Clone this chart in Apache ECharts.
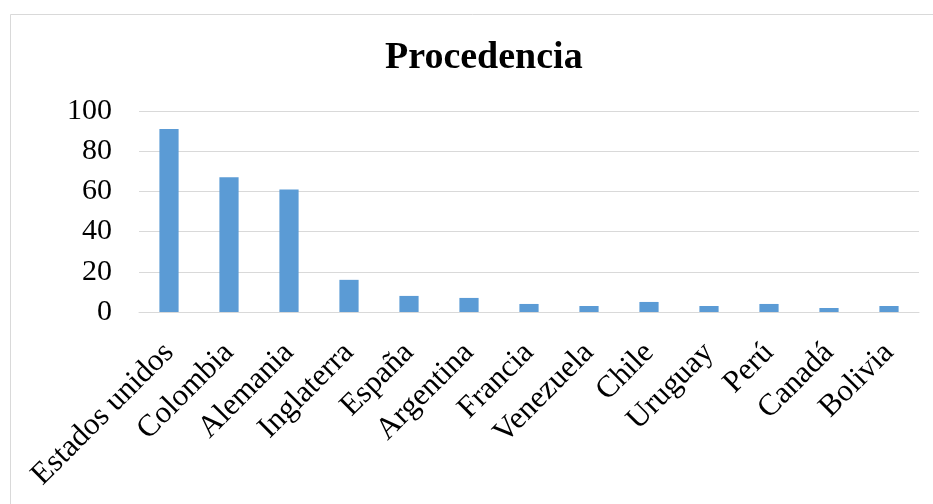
<!DOCTYPE html>
<html>
<head>
<meta charset="utf-8">
<script src="https://cdn.jsdelivr.net/npm/echarts@6/dist/echarts.min.js"></script>
<style>html,body{margin:0;padding:0;background:#fff;}#c{width:933px;height:504px;}</style>
</head>
<body>
<div id="c"></div>
<script>
const categories = ["Estados unidos","Colombia","Alemania","Inglaterra","España","Argentina","Francia","Venezuela","Chile","Uruguay","Perú","Canadá","Bolivia"];
const values = [91, 67, 61, 16, 8, 7, 4, 3, 5, 3, 4, 2, 3];
const yTicks = [0, 20, 40, 60, 80, 100];

const chart = echarts.init(document.getElementById('c'));
chart.setOption({
  backgroundColor: '#fff',
  animation: false,
  graphic: [{
    type: 'rect', left: 8, top: 12, shape: {width: 940, height: 500},
    style: {fill: 'none', stroke: '#d9d9d9', lineWidth: 1}, silent: true
  }],
  title: {
    text: 'Procedencia', left: 380, top: 34,
    textStyle: {fontFamily: 'Liberation Serif', fontWeight: 'bold', fontSize: 38, color: '#000'}
  },
  grid: {left: 139, right: 14, top: 111, bottom: 192, containLabel: false},
  xAxis: {
    type: 'category', data: categories,
    axisLine: {lineStyle: {color: '#d9d9d9', width: 1}},
    axisTick: {show: false},
    axisLabel: {rotate: 45, interval: 0, margin: 36, fontFamily: 'Liberation Serif', fontSize: 31, color: '#000'}
  },
  yAxis: {
    type: 'value', min: 0, max: 100, interval: 20,
    axisLine: {show: false}, axisTick: {show: false},
    splitLine: {lineStyle: {color: '#d9d9d9', width: 1}},
    axisLabel: {margin: 27, fontFamily: 'Liberation Serif', fontSize: 30, color: '#000',
      formatter: v => yTicks.includes(v) ? String(v) : ''}
  },
  series: [{
    type: 'bar', data: values, barWidth: '32%',
    itemStyle: {color: '#5b9bd5'}
  }]
});
</script>
</body>
</html>
